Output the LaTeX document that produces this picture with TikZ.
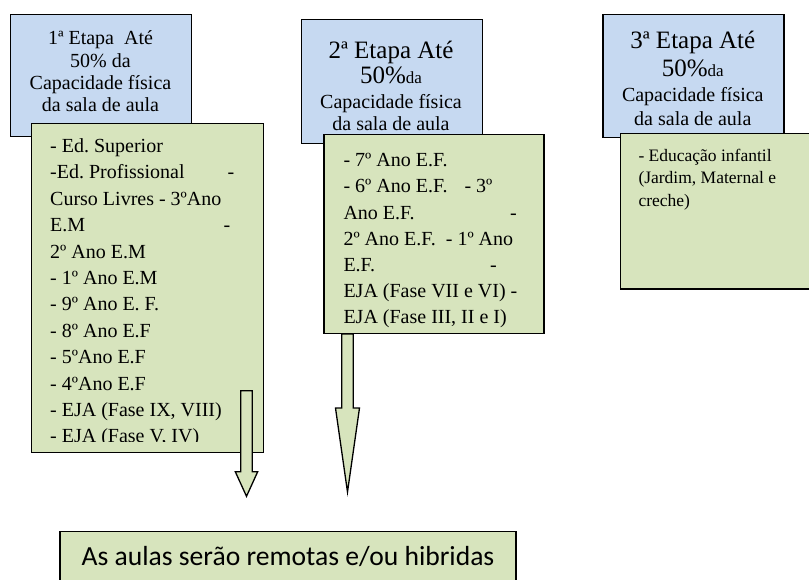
\documentclass[tikz,border=0pt]{standalone}
\usepackage{fontspec}
\setmainfont{Liberation Serif}
\newfontfamily\avisofont{Carlito}
\definecolor{etapablue}{RGB}{198,217,241}
\definecolor{listgreen}{RGB}{215,228,189}
\newcommand{\linhas}{\lineskiplimit=-50pt\relax\frenchspacing}
\newcommand{\traco}[2]{\makebox[#1][l]{#2\hfill -}}

\tikzset{
  etapa/.style={draw, line width=1.4pt, fill=etapablue, inner sep=0pt, anchor=north west},
  lista/.style={draw, line width=1.4pt, fill=listgreen, inner sep=0pt, anchor=north west},
  titulo/.style={inner sep=0pt, align=center, anchor=north},
  itens/.style={inner sep=0pt, align=left, anchor=north west},
  seta/.style={draw, line width=1.3pt, fill=listgreen, line join=miter},
}

\begin{document}
\begin{tikzpicture}[x=1pt, y=-1pt]
            \useasboundingbox (0,0) rectangle (809,579);
            \clip (0,0) rectangle (809,579);

            % Define stage boxes
            \node[etapa, minimum width=181pt, minimum height=122pt] (etapa1) at (10,14) {};
            \node[titulo, font={\fontsize{20}{22.3}\selectfont\linhas}] (titulo1) at (100.5,29.6)
                {\rule{0pt}{15pt}1ª Etapa\ \ Até\\50\% da\\Capacidade física\\da sala de aula};

            \node[etapa, minimum width=181pt, minimum height=124pt] (etapa2) at (300.7,19) {};
            \node[titulo, font={\fontsize{20}{21.6}\selectfont\linhas}] (titulo2) at (391,39.3)
                {\rule{0pt}{19pt}{\fontsize{25}{25}\selectfont 2ª Etapa Até}\\[3.3pt]
                 {\fontsize{25}{25}\selectfont 50\%}{\fontsize{17}{17}\selectfont da}\\[3.5pt]
                 Capacidade física\\da sala de aula};

            \node[etapa, minimum width=181pt, minimum height=122.7pt] (etapa3) at (602.3,14) {};
            \node[titulo, font={\fontsize{20}{23.3}\selectfont\linhas}] (titulo3) at (692.8,29.2)
                {\rule{0pt}{19pt}{\fontsize{25}{25}\selectfont 3ª Etapa Até}\\[5pt]
                 {\fontsize{25}{25}\selectfont 50\%}{\fontsize{17}{17}\selectfont da}\\[1.8pt]
                 Capacidade física\\da sala de aula};

            % Define lists
            \node[lista, minimum width=232pt, minimum height=329pt] (lista1) at (31,123) {};
            \begin{scope}
                \clip (31,123) rectangle (263,441.5);
                \node[itens, font={\fontsize{20}{26.4}\selectfont\linhas}] (itens1) at (50,137.3)
                    {\rule{0pt}{15pt}- Ed. Superior\\
                     \traco{184pt}{-Ed. Profissional}\\
                     Curso Livres - 3ºAno\\
                     \traco{180pt}{E.M}\\
                     2º Ano E.M\\
                     - 1º Ano E.M\\
                     - 9º Ano E. F.\\
                     - 8º Ano E.F\\
                     - 5ºAno E.F\\
                     - 4ºAno E.F\\
                     - EJA (Fase IX, VIII)\\
                     - EJA (Fase V, IV)};
            \end{scope}

            \draw[seta] (341.7,334) -- (353.3,334) -- (353.3,408) -- (359.5,408) -- (347.5,492)
                -- (335.5,408) -- (341.7,408) -- cycle;
            \node[lista, minimum width=220pt, minimum height=199pt] (lista2) at (323.3,134) {};
            \node[itens, font={\fontsize{20}{26.1}\selectfont\linhas}] (itens2) at (343.3,151.6)
                {\rule{0pt}{15pt}- 7º Ano E.F.\\
                 - 6º Ano E.F.\hspace{12pt} - 3º\\
                 \traco{173.4pt}{Ano E.F.}\\
                 2º Ano E.F.\ \ - 1º Ano\\
                 \traco{153.4pt}{E.F.}\\
                 EJA (Fase VII e VI) -\\
                 EJA (Fase III, II e I)};

            \node[lista, minimum width=220pt, minimum height=155.6pt] (lista3) at (620,132.7) {};
            \node[itens, font={\fontsize{17.5}{22.5}\selectfont\linhas}] (itens3) at (638.3,147.8)
                {\rule{0pt}{13pt}- Educação infantil\\
                 (Jardim, Maternal e\\
                 creche)};

            % Draw block arrows
            \draw[seta] (240.7,390.7) -- (252.3,390.7) -- (252.3,471.7) -- (257.7,471.7) -- (246.5,496.3)
                -- (235.3,471.7) -- (240.7,471.7) -- cycle;

            % Final box
            \node[draw, line width=1.2pt, fill=listgreen, anchor=north, inner ysep=0pt, minimum width=456pt,
                text height=34.3pt, text depth=35pt, font={\avisofont\fontsize{27.6}{32}\selectfont}] (aviso) at (288,530.7)
                {As aulas serão remotas e/ou hibridas};
        \end{tikzpicture}
\end{document}
